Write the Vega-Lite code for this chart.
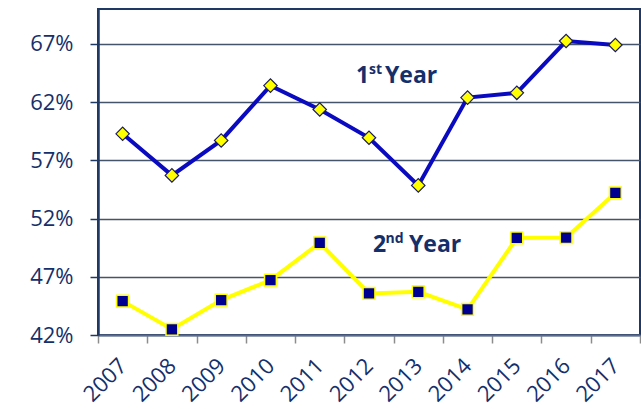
{
  "$schema": "https://vega.github.io/schema/vega-lite/v6.json",
  "width": 542,
  "height": 326,
  "autosize": {"type": "none"},
  "padding": {"left": 98, "top": 9, "right": 1, "bottom": 74},
  "background": "white",
  "config": {"view": {"stroke": "#1f3864", "strokeWidth": 2}, "font": "Open Sans"},
  "datasets": {
    "rates": [
      {"year": "2007", "series": "1st Year", "value": 0.5928},
      {"year": "2008", "series": "1st Year", "value": 0.5571},
      {"year": "2009", "series": "1st Year", "value": 0.5871},
      {"year": "2010", "series": "1st Year", "value": 0.6342},
      {"year": "2011", "series": "1st Year", "value": 0.6137},
      {"year": "2012", "series": "1st Year", "value": 0.5894},
      {"year": "2013", "series": "1st Year", "value": 0.5485},
      {"year": "2014", "series": "1st Year", "value": 0.6239},
      {"year": "2015", "series": "1st Year", "value": 0.6280},
      {"year": "2016", "series": "1st Year", "value": 0.6725},
      {"year": "2017", "series": "1st Year", "value": 0.6691},
      {"year": "2007", "series": "2nd Year", "value": 0.4491},
      {"year": "2008", "series": "2nd Year", "value": 0.4249},
      {"year": "2009", "series": "2nd Year", "value": 0.4500},
      {"year": "2010", "series": "2nd Year", "value": 0.4671},
      {"year": "2011", "series": "2nd Year", "value": 0.4991},
      {"year": "2012", "series": "2nd Year", "value": 0.4557},
      {"year": "2013", "series": "2nd Year", "value": 0.4571},
      {"year": "2014", "series": "2nd Year", "value": 0.4420},
      {"year": "2015", "series": "2nd Year", "value": 0.5034},
      {"year": "2016", "series": "2nd Year", "value": 0.5037},
      {"year": "2017", "series": "2nd Year", "value": 0.5420}
    ],
    "labels": [
      {"year": "2012", "value": 0.6362, "key": "first", "big": "1", "sup": "st", "word": "Year"},
      {"year": "2012", "value": 0.4914, "key": "second", "big": "2", "sup": "nd", "word": "Year"}
    ]
  },
  "data": {"name": "rates"},
  "encoding": {
    "x": {
      "field": "year",
      "type": "ordinal",
      "scale": {"type": "band", "paddingInner": 0, "paddingOuter": 0},
      "axis": {
        "title": null,
        "labelAngle": -45,
        "labelAlign": "right",
        "labelBaseline": "middle",
        "labelFontSize": 22,
        "labelColor": "#152f6b",
        "labelPadding": 19,
        "tickBand": "extent",
        "tickColor": "#8c8c8c",
        "tickSize": 8,
        "tickWidth": 1.5,
        "domainColor": "#5b6b8c",
        "domainWidth": 2,
        "grid": false
      }
    },
    "y": {
      "field": "value",
      "type": "quantitative",
      "scale": {"domain": [0.42, 0.70], "nice": false, "zero": false},
      "axis": {
        "title": null,
        "values": [0.42, 0.47, 0.52, 0.57, 0.62, 0.67],
        "format": ".0%",
        "labelFontSize": 22,
        "labelColor": "#152f6b",
        "labelPadding": 17,
        "tickSize": 8,
        "tickColor": "#1f3864",
        "tickWidth": 1.5,
        "domainColor": "#1f3864",
        "domainWidth": 2.5,
        "grid": true,
        "gridColor": "#44546a",
        "gridWidth": 1.5
      }
    }
  },
  "layer": [
    {
      "transform": [{"filter": "datum.series == '2nd Year'"}],
      "mark": {"type": "line", "color": "#ffff00", "strokeWidth": 4}
    },
    {
      "transform": [{"filter": "datum.series == '2nd Year'"}],
      "mark": {"type": "point", "shape": "square", "filled": true, "fill": "#000090", "stroke": "#ffff00", "strokeWidth": 1.5, "size": 140, "opacity": 1}
    },
    {
      "transform": [{"filter": "datum.series == '1st Year'"}],
      "mark": {"type": "line", "color": "#0a0ac0", "strokeWidth": 4}
    },
    {
      "transform": [{"filter": "datum.series == '1st Year'"}],
      "mark": {"type": "point", "shape": "diamond", "filled": true, "fill": "#ffff00", "stroke": "#1a1a60", "strokeWidth": 1.2, "size": 180, "opacity": 1}
    },
    {
      "data": {"name": "labels"},
      "transform": [{"filter": "datum.key == 'first'"}],
      "mark": {"type": "text", "align": "left", "baseline": "alphabetic", "fontSize": 23, "fontWeight": "bold", "color": "#152f6b", "dx": -13},
      "encoding": {"text": {"field": "big"}}
    },
    {
      "data": {"name": "labels"},
      "transform": [{"filter": "datum.key == 'first'"}],
      "mark": {"type": "text", "align": "left", "baseline": "alphabetic", "fontSize": 14, "fontWeight": "bold", "color": "#152f6b", "dx": 0, "dy": -9},
      "encoding": {"text": {"field": "sup"}}
    },
    {
      "data": {"name": "labels"},
      "transform": [{"filter": "datum.key == 'first'"}],
      "mark": {"type": "text", "align": "left", "baseline": "alphabetic", "fontSize": 23, "fontWeight": "bold", "color": "#152f6b", "dx": 16},
      "encoding": {"text": {"field": "word"}}
    },
    {
      "data": {"name": "labels"},
      "transform": [{"filter": "datum.key == 'second'"}],
      "mark": {"type": "text", "align": "left", "baseline": "alphabetic", "fontSize": 23, "fontWeight": "bold", "color": "#152f6b", "dx": 4},
      "encoding": {"text": {"field": "big"}}
    },
    {
      "data": {"name": "labels"},
      "transform": [{"filter": "datum.key == 'second'"}],
      "mark": {"type": "text", "align": "left", "baseline": "alphabetic", "fontSize": 14, "fontWeight": "bold", "color": "#152f6b", "dx": 16.5, "dy": -9},
      "encoding": {"text": {"field": "sup"}}
    },
    {
      "data": {"name": "labels"},
      "transform": [{"filter": "datum.key == 'second'"}],
      "mark": {"type": "text", "align": "left", "baseline": "alphabetic", "fontSize": 23, "fontWeight": "bold", "color": "#152f6b", "dx": 40},
      "encoding": {"text": {"field": "word"}}
    }
  ]
}
